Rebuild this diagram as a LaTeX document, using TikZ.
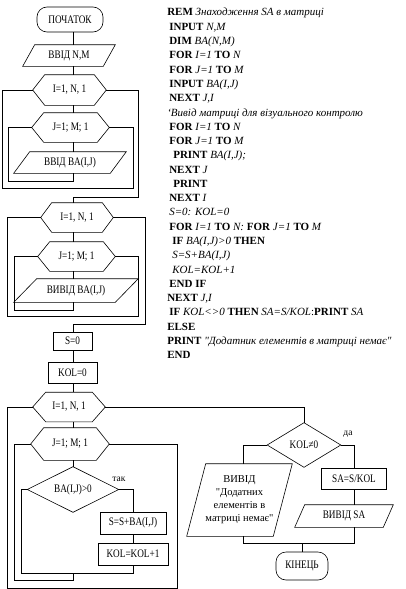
\documentclass[tikz,border=0pt]{standalone}
\usepackage{fontspec}
\setmainfont{Liberation Serif}[Ligatures=TeXOff]
\newfontfamily\flowfont[FakeStretch=0.8,Ligatures=TeXOff]{Liberation Serif}
\newcommand{\hexout}[2]{\draw (#1.west) -- ([xshift=#2pt]#1.north west) -- ([xshift=-#2pt]#1.north east) -- (#1.east) -- ([xshift=-#2pt]#1.south east) -- ([xshift=#2pt]#1.south west) -- cycle;}
\newcommand{\ioout}[2]{\draw ([xshift=#2pt]#1.north west) -- (#1.north east) -- ([xshift=-#2pt]#1.south east) -- (#1.south west) -- cycle;}
\newcommand{\diaout}[1]{\draw (#1.north) -- (#1.east) -- (#1.south) -- (#1.west) -- cycle;}
\tikzset{
 fl/.style={font=\flowfont\fontsize{11.5}{13}\selectfont, inner sep=0pt, align=center},
 procbox/.style={fl, draw, rectangle},
 termbox/.style={fl, draw, rectangle, rounded corners=10pt},
 ghostbox/.style={fl, rectangle},
 code/.style={font=\fontsize{11}{13}\selectfont, inner sep=0pt, anchor=base west},
 lbl/.style={font=\fontsize{9.5}{11}\selectfont, inner sep=0pt},
}
\begin{document}
\begin{tikzpicture}[x=1pt,y=-1pt,line width=0.6pt]
\useasboundingbox (0,0) rectangle (405,589);
\coordinate (ax) at (73,0);
\coordinate (axL) at (243,0);
% ---------- group A
\node[termbox, minimum width=66pt, minimum height=25pt] (start) at (70,19.5) {ПОЧАТОК};
\node[ghostbox, minimum width=92pt, minimum height=21pt] (in1) at (69,55.5) {ВВІД N,M};
\ioout{in1}{12}
\node[ghostbox, minimum width=73pt, minimum height=30pt] (hA1) at (69.5,90) {I=1, N, 1};
\hexout{hA1}{12}
\node[ghostbox, minimum width=77pt, minimum height=29pt] (hA2) at (70.5,127.5) {J=1; M; 1};
\hexout{hA2}{12}
\node[ghostbox, minimum width=112pt, minimum height=21pt] (in2) at (70,162.5) {ВВІД BA(I,J)};
\ioout{in2}{16}
\coordinate (aInL) at (8,181);
\coordinate (aInR) at (133,188);
\coordinate (aOutL) at (2.5,188);
\coordinate (aOutR) at (138,197);
\draw (start.south -| ax) -- (in1.north -| ax);
\draw (in1.south -| ax) -- (hA1.north -| ax);
\draw (hA1.south -| ax) -- (hA2.north -| ax);
\draw (hA2.south -| ax) -- (in2.north -| ax);
\draw (in2.south -| ax) |- (aInL) |- (hA2.west);
\draw (hA2.east) -| (aInR) -- (aOutL) |- (hA1.west);
% ---------- group B
\node[ghostbox, minimum width=72pt, minimum height=29pt] (hB1) at (77,217.5) {I=1, N, 1};
\hexout{hB1}{11}
\node[ghostbox, minimum width=77pt, minimum height=29pt] (hB2) at (76.5,256.5) {J=1; M; 1};
\hexout{hB2}{12}
\node[ghostbox, minimum width=124pt, minimum height=23pt] (out1) at (76,290.5) {ВИВІД BA(I,J)};
\ioout{out1}{23}
\draw (hA1.east) -| (aOutR) -| (hB1.north -| ax);
\coordinate (bInL) at (14,310);
\coordinate (bInR) at (138,316);
\coordinate (bOutL) at (7,316);
\coordinate (bOutR) at (145,324);
\draw (hB1.south -| ax) -- (hB2.north -| ax);
\draw (hB2.south -| ax) -- (out1.north -| ax);
\draw (out1.south -| ax) |- (bInL) |- (hB2.west);
\draw (hB2.east) -| (bInR) -- (bOutL) |- (hB1.west);
% ---------- group C
\node[procbox, minimum width=39pt, minimum height=18pt] (s0) at (72.5,341) {S=0};
\node[procbox, minimum width=49pt, minimum height=21pt] (k0) at (72.5,372.5) {KOL=0};
\draw (hB1.east) -| (bOutR) -| (s0.north -| ax);
\draw (s0.south -| ax) -- (k0.north -| ax);
\node[ghostbox, minimum width=72pt, minimum height=29pt] (hC1) at (69,407) {I=1, N, 1};
\hexout{hC1}{13}
\node[ghostbox, minimum width=78pt, minimum height=32pt] (hC2) at (70,444) {J=1; M; 1};
\hexout{hC2}{13}
\node[ghostbox, minimum width=91pt, minimum height=45pt] (dC) at (73,489.5) {BA(I,J)>0};
\diaout{dC}
\node[procbox, minimum width=66pt, minimum height=22pt] (ssum) at (133,523) {S=S+BA(I,J)};
\node[procbox, minimum width=70pt, minimum height=22pt] (kinc) at (133,554) {KOL=KOL+1};
\node[lbl] (tak) at (119,479.5) {так};
\draw (k0.south -| ax) -- (hC1.north -| ax);
\draw (hC1.south -| ax) -- (hC2.north -| ax);
\draw (hC2.south -| ax) -- (dC.north);
\draw (dC.east) -| (ssum.north);
\draw (ssum.south) -- (kinc.north);
\coordinate (cJoinL) at (21,573);
\coordinate (cInL) at (14,580);
\coordinate (cInR) at (177,588);
\coordinate (cOutL) at (7,588);
\draw (dC.west) -| (cJoinL) -| (kinc.south);
\draw (cJoinL -| ax) |- (cInL) |- (hC2.west);
\draw (hC2.east) -| (cInR) -- (cOutL) |- (hC1.west);
% ---------- right part
\node[ghostbox, minimum width=73pt, minimum height=44pt] (dK) at (304,445) {KOL≠0};
\diaout{dK}
\node[lbl] (da) at (348,434.5) {да};
\draw (hC1.east) -| (dK.north);
\node[ghostbox, font=\fontsize{10.5}{13}\selectfont, minimum width=105pt, minimum height=72pt] (outK) at (239.5,500) {ВИВІД\\"Додатних\\елементів в\\матриці немає"};
\ioout{outK}{19}
\node[procbox, minimum width=65pt, minimum height=21pt] (sak) at (354,478.5) {SA=S/KOL};
\node[ghostbox, minimum width=98pt, minimum height=22pt] (outSA) at (344,516) {ВИВІД SA};
\ioout{outSA}{10}
\node[termbox, minimum width=52pt, minimum height=28pt] (endK) at (302,566) {КІНЕЦЬ};
\coordinate (mergeR) at (354,543);
\coordinate (mergeL) at (243,543);
\draw (dK.west) -| (outK.north -| axL);
\draw (dK.east) -| (sak.north);
\draw (sak.south) -- (outSA.north -| sak.south);
\draw (outSA.south -| sak.south) -- (mergeR) -- (mergeL) -- (outK.south -| axL);
\draw (endK.north |- mergeR) -- (endK.north);
% ---------- code
\node[code] (c1) at (167,16.0) {\textbf{REM} \textit{Знаходження SA в матриці}};
\node[code] (c2) at (169,30.3) {\textbf{INPUT} \textit{N,M}};
\node[code] (c3) at (169,44.6) {\textbf{DIM} \textit{BA(N,M)}};
\node[code] (c4) at (169,58.8) {\textbf{FOR} \textit{I=1} \textbf{TO} \textit{N}};
\node[code] (c5) at (169,73.1) {\textbf{FOR} \textit{J=1} \textbf{TO} \textit{M}};
\node[code] (c6) at (169,87.4) {\textbf{INPUT} \textit{BA(I,J)}};
\node[code] (c7) at (169,101.7) {\textbf{NEXT} \textit{J,I}};
\node[code] (c8) at (167,116.0) {\textit{‘Вивід матриці для візуального контролю}};
\node[code] (c9) at (169,130.2) {\textbf{FOR} \textit{I=1} \textbf{TO} \textit{N}};
\node[code] (c10) at (169,144.5) {\textbf{FOR} \textit{J=1} \textbf{TO} \textit{M}};
\node[code] (c11) at (173,158.8) {\textbf{PRINT} \textit{BA(I,J);}};
\node[code] (c12) at (169,173.1) {\textbf{NEXT} \textit{J}};
\node[code] (c13) at (173,187.4) {\textbf{PRINT}};
\node[code] (c14) at (169,201.6) {\textbf{NEXT} \textit{I}};
\node[code] (c15) at (169,215.9) {\textit{S=0: KOL=0}};
\node[code] (c16) at (169,230.2) {\textbf{FOR} \textit{I=1} \textbf{TO} \textit{N:} \textbf{FOR} \textit{J=1} \textbf{TO} \textit{M}};
\node[code] (c17) at (172,244.5) {\textbf{IF} \textit{BA(I,J)>0} \textbf{THEN}};
\node[code] (c18) at (172,258.8) {\textit{S=S+BA(I,J)}};
\node[code] (c19) at (172,273.0) {\textit{KOL=KOL+1}};
\node[code] (c20) at (169,287.3) {\textbf{END IF}};
\node[code] (c21) at (167,301.6) {\textbf{NEXT} \textit{J,I}};
\node[code] (c22) at (169,315.9) {\textbf{IF} \textit{KOL<>0} \textbf{THEN} \textit{SA=S/KOL}:\textbf{PRINT} \textit{SA}};
\node[code] (c23) at (167,330.2) {\textbf{ELSE}};
\node[code] (c24) at (167,344.4) {\textbf{PRINT} \textit{"Додатник елементів в матриці немає"}};
\node[code] (c25) at (167,358.7) {\textbf{END}};
\end{tikzpicture}
\end{document}
